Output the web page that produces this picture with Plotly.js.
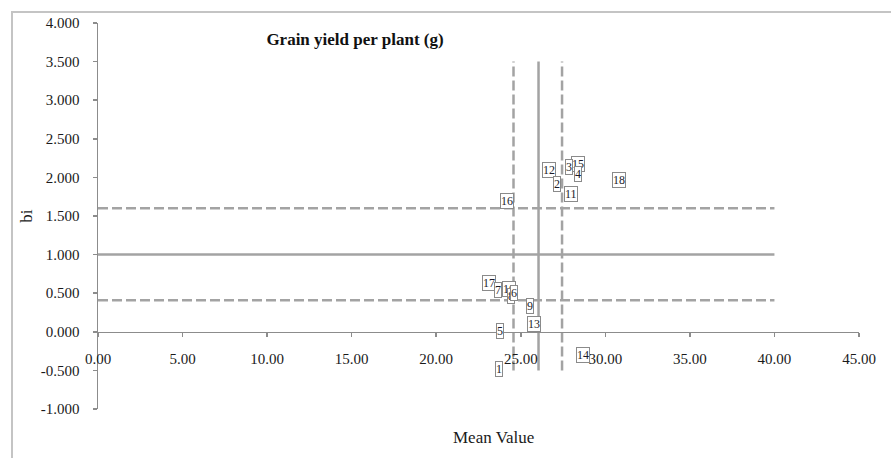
<!DOCTYPE html>
<html>
<head>
<meta charset="utf-8">
<script src="https://cdn.plot.ly/plotly-3.0.1.min.js"></script>
<style>
  html, body { margin: 0; padding: 0; background: #fff; overflow: hidden; }
  #chart { width: 891px; height: 458px; position: absolute; left: 0; top: 0; }
  #frame { position: absolute; left: 11px; top: 11px; width: 1000px; height: 1000px;
           border-top: 2px solid #c4c4c4; border-left: 2px solid #c4c4c4; pointer-events: none; }
</style>
</head>
<body>
<div id="chart"></div>
<div id="frame"></div>
<script>
// Genotype numbers with their mean grain yield per plant (g) and regression coefficient (bi)
const genotypes = ["1","2","3","4","5","6","7","8","9","10","11","12","13","14","15","16","17","18"];
const meanValue = [23.69, 27.14, 27.83, 28.36, 23.79, 24.60, 23.63, 24.45, 25.52, 24.32, 27.97, 26.67, 25.78, 28.70, 28.36, 24.18, 23.14, 30.79];
const biValue   = [-0.48, 1.91, 2.13, 2.05, 0.01, 0.50, 0.54, 0.47, 0.34, 0.56, 1.79, 2.10, 0.10, -0.30, 2.18, 1.70, 0.63, 1.96];

// Reference lines: grand mean with its limits, and bi = 1 with its limits
const meanLines  = [24.57, 26.05, 27.44];   // lower limit, grand mean, upper limit
const biLines    = [0.41, 1.00, 1.60];      // lower limit, bi = 1, upper limit
const vLineSpan  = [-0.5, 3.5];
const hLineSpan  = [0, 40];

const xTickVals = [0, 5, 10, 15, 20, 25, 30, 35, 40, 45];
const yTickVals = [-1, -0.5, 0, 0.5, 1, 1.5, 2, 2.5, 3, 3.5, 4];

const serif = "Liberation Serif, Times New Roman, serif";
const lineColor = "#a3a3a3";

const shapes = [];
meanLines.forEach((x, i) => {
  shapes.push({
    type: "line", xref: "x", yref: "y",
    x0: x, x1: x, y0: vLineSpan[0], y1: vLineSpan[1],
    line: { color: lineColor, width: 2.5, dash: i === 1 ? "solid" : "10px,4px" },
    layer: "below"
  });
});
biLines.forEach((y, i) => {
  shapes.push({
    type: "line", xref: "x", yref: "y",
    x0: hLineSpan[0], x1: hLineSpan[1], y0: y, y1: y,
    line: { color: lineColor, width: 2.5, dash: i === 1 ? "solid" : "10px,4px" },
    layer: "below"
  });
});

// Boxed genotype labels at each point (drawn last-to-first so low numbers sit on top)
const annotations = genotypes.map((g, i) => ({
  x: meanValue[i], y: biValue[i], xref: "x", yref: "y",
  text: g, showarrow: false,
  font: { family: serif, size: 12, color: "#1c1c2a" },
  bgcolor: "#ffffff", bordercolor: "#8a8a8a", borderwidth: 1, borderpad: 0
})).reverse();

annotations.push({
  xref: "paper", yref: "paper", x: (493 - 98) / 760.7, y: -(438 - 409.3) / 386.6,
  xanchor: "center", yanchor: "middle", showarrow: false,
  text: "Mean Value", font: { family: serif, size: 17, color: "#1a1a1a" }
});

const trace = {
  type: "scatter", mode: "markers",
  x: meanValue, y: biValue, text: genotypes,
  marker: { size: 1, color: "rgba(0,0,0,0)" },
  hoverinfo: "text"
};

const layout = {
  width: 891, height: 458,
  margin: { l: 98, r: 32.3, t: 22.7, b: 48.7 },
  paper_bgcolor: "#ffffff", plot_bgcolor: "#ffffff",
  showlegend: false,
  title: {
    text: "<b>Grain yield per plant (g)</b>",
    font: { family: serif, size: 17, color: "#111111" },
    xref: "container", yref: "container",
    x: 355 / 891, y: 1 - 39 / 458, xanchor: "center", yanchor: "middle"
  },
  xaxis: {
    range: [0, 45], tickmode: "array",
    tickvals: xTickVals, ticktext: xTickVals.map(v => v.toFixed(2)),
    anchor: "free", position: 0.2,
    showgrid: false, zeroline: false,
    showline: true, linecolor: "#8c8c8c", linewidth: 1.5,
    ticks: "outside", ticklen: 4, tickcolor: "#8c8c8c", tickwidth: 1.5,
    ticklabelstandoff: 9,
    tickfont: { family: serif, size: 15, color: "#1a1a1a" }
  },
  yaxis: {
    range: [-1, 4], tickmode: "array",
    tickvals: yTickVals, ticktext: yTickVals.map(v => v.toFixed(3)),
    showgrid: false, zeroline: false,
    showline: true, linecolor: "#8c8c8c", linewidth: 1.5,
    ticks: "outside", ticklen: 4, tickcolor: "#8c8c8c", tickwidth: 1.5,
    ticklabelstandoff: 10,
    tickfont: { family: serif, size: 15, color: "#1a1a1a" },
    title: { text: "bi", font: { family: serif, size: 17, color: "#1a1a1a" }, standoff: 4 }
  },
  shapes: shapes,
  annotations: annotations
};

Plotly.newPlot("chart", [trace], layout, { displayModeBar: false, staticPlot: true });
</script>
</body>
</html>
